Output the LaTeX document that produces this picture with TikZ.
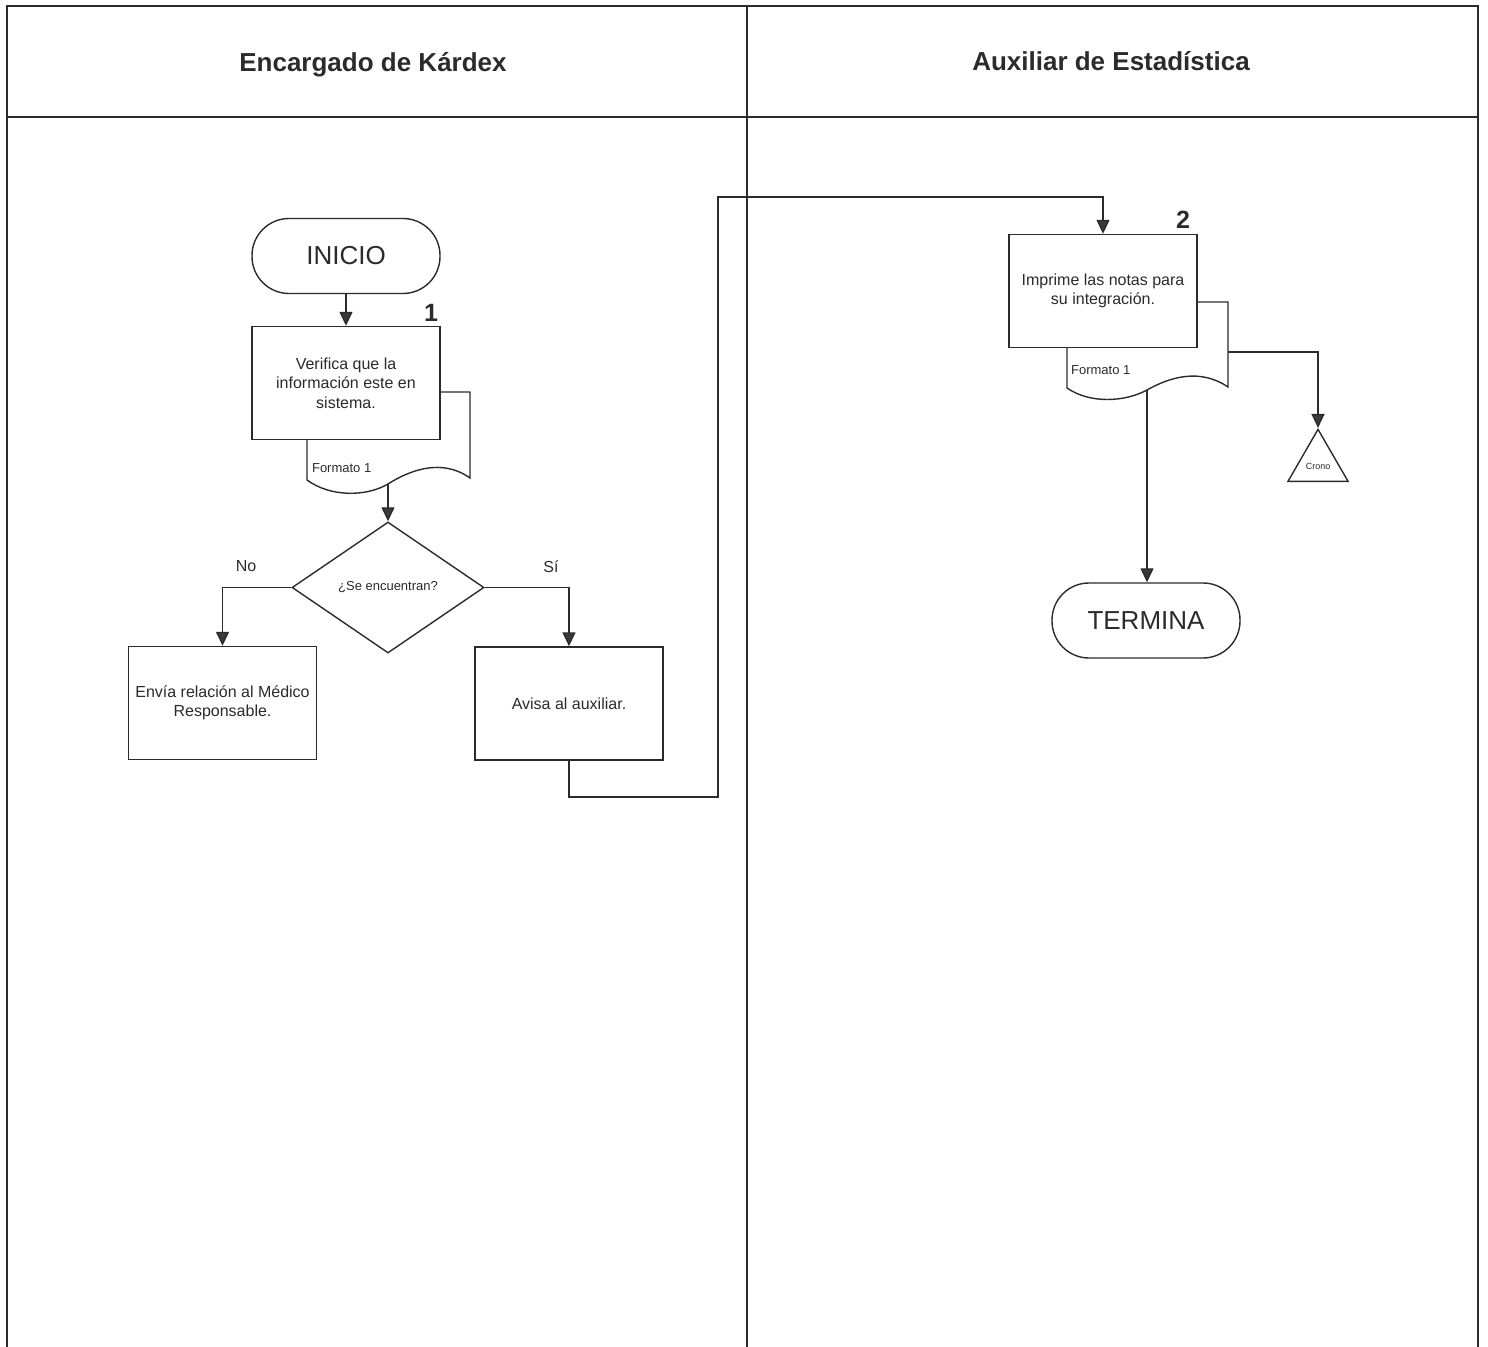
\documentclass[tikz,border=0pt]{standalone}
\usepackage{fontspec}
\setmainfont{Liberation Sans}
\usetikzlibrary{arrows.meta,shapes.geometric}
\definecolor{ink}{HTML}{2B2B2B}
\definecolor{tip}{HTML}{3A3A3A}

\tikzset{
  proc/.style={draw=ink,fill=white,line width=.7pt,minimum width=94pt,
    minimum height=56.5pt,align=center,font=\fontsize{8}{9.7}\selectfont},
  term/.style={draw=ink,fill=white,line width=.7pt,rounded corners=18.5pt,
    minimum width=94pt,minimum height=37.5pt,font=\fontsize{13}{15}\selectfont},
  dec/.style={draw=ink,fill=white,line width=.7pt,diamond,inner sep=0pt,
    minimum width=96pt,minimum height=65.5pt,font=\fontsize{6.5}{8}\selectfont},
  docpath/.style={draw=ink,fill=white,line width=.7pt},
  arr/.style={draw=ink,line width=.7pt,-{Triangle[width=6.5pt,length=7pt,fill=tip]}},
  lane/.style={draw=ink,line width=1pt},
  small/.style={font=\fontsize{6.5}{8}\selectfont},
  num/.style={font=\bfseries\fontsize{12.5}{14}\selectfont}
}

\begin{document}
\begin{tikzpicture}[x=.5pt,y=-.5pt,text=ink]
  \useasboundingbox (0,0) rectangle (1488,1347);

  \draw[lane] (7,1347)--(7,6)--(1478,6)--(1478,1347);
  \draw[lane] (7,117)--(1478,117);
  \draw[lane] (747,6)--(747,1347);
  \node[font=\bfseries\fontsize{13}{15}\selectfont] (laneA) at (373,65)
    {Encargado de Kárdex};
  \node[font=\bfseries\fontsize{13}{15}\selectfont] (laneB) at (1111,61)
    {Auxiliar de Estadística};

  \node[term] (inicio) at (346,256) {INICIO};

  \draw[docpath] (307,392)--(307,480)
    .. controls (330,497) and (366,497) .. (388,484) coordinate (doc1out)
    .. controls (410,470) and (442,458) .. (470,478)--(470,392)--cycle;
  \node[small,anchor=west] (fmt1) at (305,468) {Formato 1};
  \node[proc] (verifica) at (346,383)
    {Verifica que la\\información este en\\sistema.};
  \node[num] (n1) at (431,313) {1};

  \node[dec] (dec) at (388,587.5) {¿Se encuentran?};
  \node[proc] (envia) at (222.5,703) {Envía relación al Médico\\Responsable.};
  \node[proc] (avisa) at (569,703.5) {Avisa al auxiliar.};
  \node[font=\fontsize{8}{9.7}\selectfont] (no) at (246,566) {No};
  \node[font=\fontsize{8}{9.7}\selectfont] (si) at (551,567) {Sí};

  \draw[docpath] (1067,302)--(1067,388)
    .. controls (1090,404) and (1125,402) .. (1147,390) coordinate (doc2out)
    .. controls (1170,377) and (1200,368) .. (1228,387)--(1228,302)--cycle;
  \coordinate (doc2side) at (1228,352);
  \node[small,anchor=west] (fmt2) at (1064,370) {Formato 1};
  \node[proc] (imprime) at (1103,291) {Imprime las notas para\\su integración.};
  \node[num] (n2) at (1183,220) {2};

  \node[draw=ink,fill=white,line width=.7pt,regular polygon,regular polygon sides=3,
    minimum size=34pt,inner sep=0pt,font=\fontsize{4.5}{5}\selectfont]
    (crono) at (1318,464) {\raisebox{-6pt}{Crono}};
  \node[term] (termina) at (1146,620.5) {TERMINA};

  \coordinate (hop1) at (718,797);
  \coordinate (hop2) at (718,197);

  \draw[arr] (inicio) -- (verifica);
  \draw[arr] (doc1out) -- (dec.north);
  \draw[arr] (dec.west) -| (envia.north);
  \draw[arr] (dec.east) -| (avisa.north);
  \draw[arr] (avisa.south) |- (hop1) -- (hop2) -| (imprime.north);
  \draw[arr] (doc2side) -| (crono.north);
  \draw[arr] (doc2out) -- (doc2out |- termina.north);
\end{tikzpicture}
\end{document}
